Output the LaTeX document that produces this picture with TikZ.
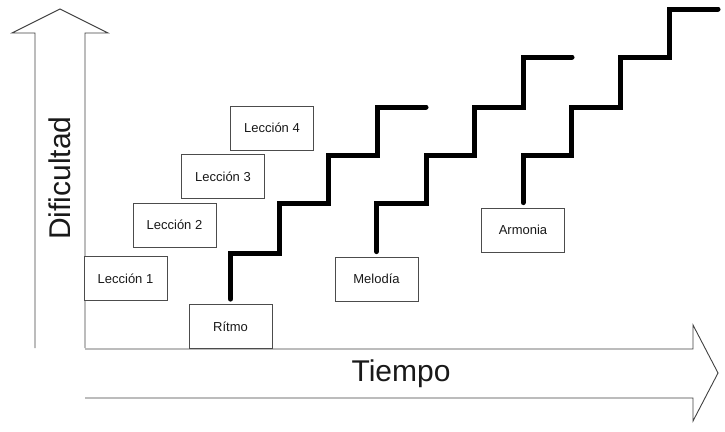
\documentclass[tikz,border=0pt]{standalone}
\usepackage{fontspec}
\setmainfont{Liberation Sans}
\begin{document}
\begin{tikzpicture}[x=1pt,y=-1pt,
  box/.style={draw=black!70,line width=0.8pt,fill=white,minimum width=83pt,minimum height=44pt,inner sep=0pt,font=\fontsize{13}{15}\selectfont,text=black!90},
  stair/.style={line width=5pt,line cap=round,line join=miter,black},
  axis/.style={draw=black!75,line width=0.9pt,line join=miter},
  big/.style={font=\fontsize{30}{34}\selectfont,text=black!90}]
\useasboundingbox (0,0) rectangle (725,431);
% vertical axis arrow
\draw[axis] (35,348) -- (35,33) -- (12,33) -- (60,9) -- (108,33) -- (85,33) -- (85,348);
% horizontal axis arrow
\draw[axis] (85,349) -- (693,349) -- (693,325) -- (718,373) -- (693,421) -- (693,398) -- (85,398);
\node[big,rotate=90] (dif) at (60,178) {Dificultad};
\node[big] (tiempo) at (401,374) {Tiempo};
% boxes
\node[box] (l1) at (125.5,278.5) {Lección 1};
\node[box] (l2) at (174.5,225) {Lección 2};
\node[box] (l3) at (223,176.5) {Lección 3};
\node[box] (l4) at (272,128) {Lección 4};
\node[box] (ritmo) at (230.5,326.5) {Rítmo};
\node[box] (melodia) at (376.5,279) {Melodía};
\node[box] (armonia) at (523,230) {Armonia};
% staircases
\draw[stair] ([yshift=5pt]ritmo.north) |- (279,253) |- (328,203) |- (377,155) |- (426,107);
\draw[stair] ([yshift=5pt]melodia.north) |- (426,203) |- (474,155) |- (523,107) |- (572,57);
\draw[stair] ([yshift=5pt]armonia.north) |- (571,155) |- (620,107) |- (669,57) |- (718,9);
\end{tikzpicture}
\end{document}
